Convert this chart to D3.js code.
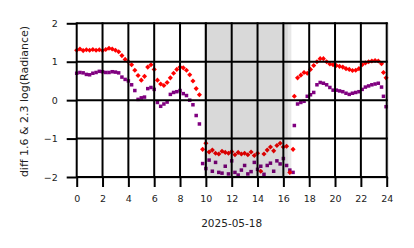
<!DOCTYPE html>
<html>
<head>
<meta charset="utf-8">
<script src="https://cdn.jsdelivr.net/npm/d3@7"></script>
<style>
  body { margin: 0; background: #fff; }
  text { font-family: "DejaVu Sans", sans-serif; fill: #222; }
</style>
</head>
<body>
<svg width="414" height="248"></svg>
<script>
// hours of day (UTC) for each sample
var hours = [
  0, 0.25, 0.5, 0.75, 1, 1.25, 1.5, 1.75, 2, 2.25, 2.5, 2.75,
  3, 3.25, 3.5, 3.75, 4, 4.25, 4.5, 4.75, 5, 5.25, 5.5, 5.75,
  6, 6.25, 6.5, 6.75, 7, 7.25, 7.5, 7.75, 8, 8.25, 8.5, 8.75,
  9, 9.25, 9.5, 9.75, 10, 10.25, 10.5, 10.75, 11, 11.25, 11.5, 11.75,
  12, 12.25, 12.5, 12.75, 13, 13.25, 13.5, 13.75, 14, 14.25, 14.5, 14.75,
  15, 15.25, 15.5, 15.75, 16, 16.25, 16.5, 16.75,
  16.85, 17.1, 17.35, 17.6, 17.85, 18.1, 18.35, 18.6, 18.85, 19.1, 19.35, 19.6,
  19.85, 20.1, 20.35, 20.6, 20.85, 21.1, 21.35, 21.6, 21.85, 22.1, 22.35, 22.6,
  22.85, 23.1, 23.35, 23.6, 23.75, 23.95
];

// diff 1.6 log(Radiance) - red diamonds
var red = [
  1.30, 1.33, 1.29, 1.31, 1.30, 1.32, 1.30, 1.31, 1.29, 1.32, 1.35, 1.33,
  1.30, 1.26, 1.16, 1.06, 1.00, 0.92, 0.78, 0.64, 0.52, 0.62, 0.86, 0.92,
  0.80, 0.52, 0.42, 0.38, 0.46, 0.58, 0.70, 0.80, 0.86, 0.84, 0.78, 0.66,
  0.50, 0.30, 0.14, -1.28, -1.12, -1.35, -1.30, -1.38, -1.40, -1.33, -1.36, -1.38,
  -1.34, -1.42, -1.36, -1.40, -1.38, -1.42, -1.35, -1.44, -1.38, -1.85, -1.40, -1.30,
  -1.22, -1.32, -1.18, -1.12, -1.22, -1.20, -1.88, -1.28,
  0.10, 0.58, 0.65, 0.72, 0.70, 0.80, 0.90, 1.00, 1.08, 1.08, 1.00, 0.94,
  0.92, 0.90, 0.88, 0.86, 0.82, 0.80, 0.77, 0.78, 0.82, 0.92, 0.97, 1.00,
  1.02, 1.03, 1.02, 0.95, 0.72, 0.58
];

// diff 2.3 log(Radiance) - purple squares
var purple = [
  0.70, 0.72, 0.71, 0.67, 0.66, 0.70, 0.72, 0.75, 0.74, 0.72, 0.72, 0.74,
  0.73, 0.71, 0.60, 0.54, 0.50, 0.40, 0.25, 0.02, 0.06, 0.08, 0.30, 0.33,
  0.28, -0.06, -0.16, -0.10, -0.05, 0.15, 0.20, 0.22, 0.25, 0.17, 0.12, 0.00,
  -0.12, -0.40, -0.62, -1.65, -1.78, -1.56, -1.85, -1.62, -1.88, -1.90, -1.72, -1.92,
  -1.58, -1.88, -1.95, -1.82, -1.70, -1.92, -1.86, -1.62, -1.80, -1.72, -1.93, -1.70,
  -1.64, -1.85, -1.58, -1.66, -1.52, -1.70, -1.82, -1.88,
  -0.66, -0.10, -0.06, -0.03, 0.10, 0.14, 0.20, 0.40, 0.46, 0.44, 0.40, 0.33,
  0.26, 0.26, 0.24, 0.22, 0.18, 0.15, 0.18, 0.20, 0.22, 0.28, 0.34, 0.37,
  0.40, 0.42, 0.44, 0.34, 0.10, -0.17
];

// shaded interval (hours)
var shade = [9.85, 16.35];
var shadeEdge = [16.35, 16.62];

var xTicks = [0, 2, 4, 6, 8, 10, 12, 14, 16, 18, 20, 22, 24];
var yTicks = [-2, -1, 0, 1, 2];

var svg = d3.select("svg");

var x = d3.scaleLinear().domain([0, 24]).range([76.7, 386.7]);
var y = d3.scaleLinear().domain([-2, 2]).range([177, 23.3]);

var data = hours.map(function(h, i) {
  return { h: h, r: red[i], p: purple[i] };
});

var fmt = function(d) { return d < 0 ? "\u2212" + Math.abs(d) : String(d); };

// faint spines
svg.append("rect")
  .attr("x", x(0)).attr("y", y(2))
  .attr("width", x(24) - x(0) + 1.5).attr("height", y(-2) - y(2) + 1.5)
  .attr("fill", "none").attr("stroke", "#ddd").attr("stroke-width", 1);

// points
svg.append("g").selectAll("rect")
  .data(data).enter().append("rect")
  .attr("x", function(d) { return x(d.h) - 1.75; })
  .attr("y", function(d) { return y(d.p) - 1.75; })
  .attr("width", 3.5).attr("height", 3.5)
  .attr("fill", "#800080");

svg.append("g").selectAll("path")
  .data(data).enter().append("path")
  .attr("d", d3.symbol().type(d3.symbolSquare).size(13))
  .attr("transform", function(d) {
    return "translate(" + x(d.h) + "," + y(d.r) + ") rotate(45)";
  })
  .attr("fill", "#ff0000");

// shaded span, drawn above the points
svg.append("rect")
  .attr("x", x(shade[0])).attr("y", y(2))
  .attr("width", x(shade[1]) - x(shade[0])).attr("height", y(-2) - y(2))
  .attr("fill", "#000").attr("fill-opacity", 0.15);
svg.append("rect")
  .attr("x", x(shadeEdge[0])).attr("y", y(2))
  .attr("width", x(shadeEdge[1]) - x(shadeEdge[0])).attr("height", y(-2) - y(2))
  .attr("fill", "#000").attr("fill-opacity", 0.09);

// x axis with gridlines
var xAxis = svg.append("g")
  .attr("transform", "translate(0," + y(-2) + ")")
  .call(d3.axisBottom(x).tickValues(xTicks).tickSize(10).tickPadding(8).tickFormat(fmt));
xAxis.select(".domain").remove();
xAxis.selectAll("line").attr("stroke", "#000").attr("stroke-width", 2);
xAxis.selectAll("text").attr("font-size", 9.5).attr("fill", "#222");

svg.append("g").selectAll("line")
  .data(xTicks).enter().append("line")
  .attr("x1", x).attr("x2", x)
  .attr("y1", y(2) - 1).attr("y2", y(-2))
  .attr("stroke", "#000").attr("stroke-width", 2);

// y axis with gridlines
var yAxis = svg.append("g")
  .attr("transform", "translate(" + x(0) + ",0)")
  .call(d3.axisLeft(y).tickValues(yTicks).tickSize(10).tickPadding(9).tickFormat(fmt));
yAxis.select(".domain").remove();
yAxis.selectAll("line").attr("stroke", "#000").attr("stroke-width", 2);
yAxis.selectAll("text").attr("font-size", 9.5).attr("fill", "#222");

svg.append("g").selectAll("line")
  .data(yTicks).enter().append("line")
  .attr("x1", x(0)).attr("x2", x(24) + 1)
  .attr("y1", y).attr("y2", y)
  .attr("stroke", "#000").attr("stroke-width", 2);

// labels
svg.append("text")
  .attr("x", (x(0) + x(24)) / 2).attr("y", 227)
  .attr("text-anchor", "middle").attr("font-size", 10.5)
  .text("2025-05-18");

svg.append("text")
  .attr("transform", "translate(28," + 101.5 + ") rotate(-90)")
  .attr("text-anchor", "middle").attr("font-size", 11)
  .text("diff 1.6 & 2.3  log(Radiance)");
</script>
</body>
</html>
